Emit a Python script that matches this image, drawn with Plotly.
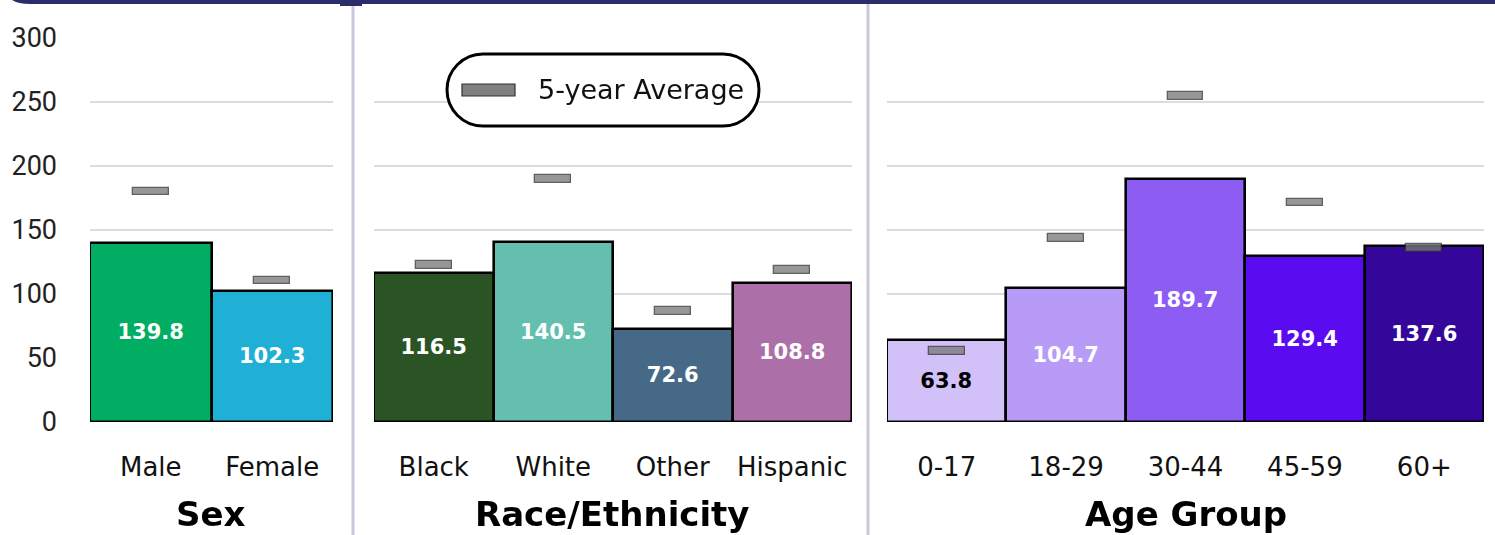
import plotly.graph_objects as go

# ---------------- data ----------------
sex_cats = ["Male", "Female"]
sex_vals = [139.8, 102.3]
sex_avg = [180.0, 110.5]
sex_colors = ["#00ad63", "#20b0d6"]

race_cats = ["Black", "White", "Other", "Hispanic"]
race_vals = [116.5, 140.5, 72.6, 108.8]
race_avg = [122.5, 190.0, 86.5, 118.5]
race_colors = ["#2b5424", "#64bfaf", "#466988", "#ad6fa7"]

age_cats = ["0-17", "18-29", "30-44", "45-59", "60+"]
age_vals = [63.8, 104.7, 189.7, 129.4, 137.6]
age_avg = [55.5, 143.5, 254.5, 171.5, 136.0]
age_colors = ["#d2c1f9", "#b89bf7", "#8d5cf2", "#5a0bef", "#34079a"]
age_text_colors = ["#000000", "#ffffff", "#ffffff", "#ffffff", "#ffffff"]

panel_titles = ["Sex", "Race/Ethnicity", "Age Group"]
y_ticks = [0, 50, 100, 150, 200, 250, 300]
legend_label = "5-year Average"

# ---------------- layout helpers ----------------
W, H = 1495, 535


def px(x):
    return x / W


def py(y):
    return 1 - y / H


MARK_H = 6.0   # height of average marker (data units)
MARK_W = 0.3   # width of average marker (category units)

panels = [
    (sex_cats, sex_vals, sex_avg, sex_colors, ["#ffffff"] * 2, "x", (90, 333)),
    (race_cats, race_vals, race_avg, race_colors, ["#ffffff"] * 4, "x2", (374, 852)),
    (age_cats, age_vals, age_avg, age_colors, age_text_colors, "x3", (887, 1484)),
]

fig = go.Figure()
for cats, vals, avg, cols, tcols, xa, _ in panels:
    fig.add_trace(go.Bar(
        x=cats, y=vals, xaxis=xa, yaxis="y" if xa == "x" else "y" + xa[1:],
        width=[1.0] * len(cats),
        marker=dict(color=cols, line=dict(color="#000000", width=2.6)),
        text=[f"{v:.1f}" for v in vals], textposition="inside",
        insidetextanchor="middle", textangle=0, constraintext="none",
        textfont=dict(family="DejaVu Sans", size=21, color=tcols, weight=700),
        cliponaxis=False, showlegend=False, hoverinfo="skip",
    ))
for cats, vals, avg, cols, tcols, xa, _ in panels:
    fig.add_trace(go.Bar(
        x=cats, y=[MARK_H] * len(cats), base=[a - MARK_H / 2 for a in avg],
        xaxis=xa, yaxis="y" if xa == "x" else "y" + xa[1:],
        width=[MARK_W] * len(cats),
        marker=dict(color="#7a7a7a", line=dict(color="#333333", width=1.3)),
        opacity=0.78, showlegend=False, hoverinfo="skip",
    ))

ydom = [py(422), py(38)]
grid = dict(showgrid=True, gridcolor="#dcdcdc", gridwidth=1.5,
            range=[0, 300], tickvals=y_ticks, zeroline=False,
            fixedrange=True, automargin=False)
layout = dict(
    width=W, height=H, barmode="overlay", bargap=0, autosize=False,
    margin=dict(l=0, r=0, t=0, b=0, pad=0),
    paper_bgcolor="#ffffff", plot_bgcolor="#ffffff",
    font=dict(family="DejaVu Sans", color="#111111"),
)
for i, (cats, vals, avg, cols, tcols, xa, (x0, x1)) in enumerate(panels):
    key = "xaxis" if i == 0 else f"xaxis{i+1}"
    ykey = "yaxis" if i == 0 else f"yaxis{i+1}"
    yname = "y" if i == 0 else f"y{i+1}"
    layout[key] = dict(
        domain=[px(x0), px(x1)], anchor=yname, type="category",
        showline=False, ticks="", ticklabelstandoff=27, automargin=False,
        tickfont=dict(family="DejaVu Sans", size=26, color="#111111"),
        range=[-0.5, len(cats) - 0.5], fixedrange=True,
    )
    ycfg = dict(grid)
    ycfg.update(domain=ydom, anchor=xa)
    if i == 0:
        ycfg.update(showticklabels=True, ticklabelstandoff=32,
                    tickfont=dict(family="Roboto", size=27, color="#222222"))
    else:
        ycfg.update(showticklabels=False)
    layout[ykey] = ycfg

fig.update_layout(**layout)

# panel titles
centers = [211, 612, 1186]
for t, c in zip(panel_titles, centers):
    fig.add_annotation(text=f"<b>{t}</b>", x=px(c), y=py(514), xref="paper",
                       yref="paper", showarrow=False, xanchor="center",
                       yanchor="middle",
                       font=dict(family="DejaVu Sans", size=34, color="#000000"))

# dividers
for xd in [353, 868]:
    fig.add_shape(type="line", xref="paper", yref="paper",
                  x0=px(xd), x1=px(xd), y0=py(4), y1=0,
                  line=dict(color="#c8c8de", width=3))

# top navy band
fig.add_shape(type="rect", xref="paper", yref="paper", x0=px(30), x1=1,
              y0=py(4), y1=1, line=dict(width=0), fillcolor="#2b2d6b")
fig.add_shape(type="path", xref="paper", yref="paper",
              path=f"M {px(30)},{py(0)} L {px(30)},{py(4)} Q {px(18)},{py(4)} {px(12)},{py(0)} Z",
              line=dict(width=0), fillcolor="#2b2d6b")
fig.add_shape(type="rect", xref="paper", yref="paper", x0=px(340), x1=px(362),
              y0=py(6), y1=1, line=dict(width=0), fillcolor="#2b2d6b")

# legend pill (rounded rect built in pixel space, converted to paper)
lx0, lx1, ly0, ly1 = 447, 759, 54, 126
r = (ly1 - ly0) / 2
k = 0.5523 * r
pts = [
    ("M", [(lx0 + r, ly0)]),
    ("L", [(lx1 - r, ly0)]),
    ("C", [(lx1 - r + k, ly0), (lx1, ly0 + r - k), (lx1, ly0 + r)]),
    ("C", [(lx1, ly0 + r + k), (lx1 - r + k, ly1), (lx1 - r, ly1)]),
    ("L", [(lx0 + r, ly1)]),
    ("C", [(lx0 + r - k, ly1), (lx0, ly1 - r + k), (lx0, ly1 - r)]),
    ("C", [(lx0, ly0 + r - k), (lx0 + r - k, ly0), (lx0 + r, ly0)]),
]
path = ""
for cmd, pp in pts:
    path += cmd + " " + " ".join(f"{px(a):.5f},{py(b):.5f}" for a, b in pp) + " "
path += "Z"
fig.add_shape(type="path", xref="paper", yref="paper", path=path,
              line=dict(color="#000000", width=3), fillcolor="#ffffff")
fig.add_shape(type="rect", xref="paper", yref="paper",
              x0=px(462), x1=px(515), y0=py(96), y1=py(84),
              line=dict(color="#333333", width=1.2), fillcolor="#808080")
fig.add_annotation(text=legend_label, x=px(536), y=py(89), xref="paper",
                   yref="paper", showarrow=False, xanchor="left",
                   yanchor="middle",
                   font=dict(family="DejaVu Sans", size=27, color="#111111"))

fig.write_html("out.html", config={"displayModeBar": False},
               post_script="document.body.style.margin='0';document.body.style.padding='0';")
